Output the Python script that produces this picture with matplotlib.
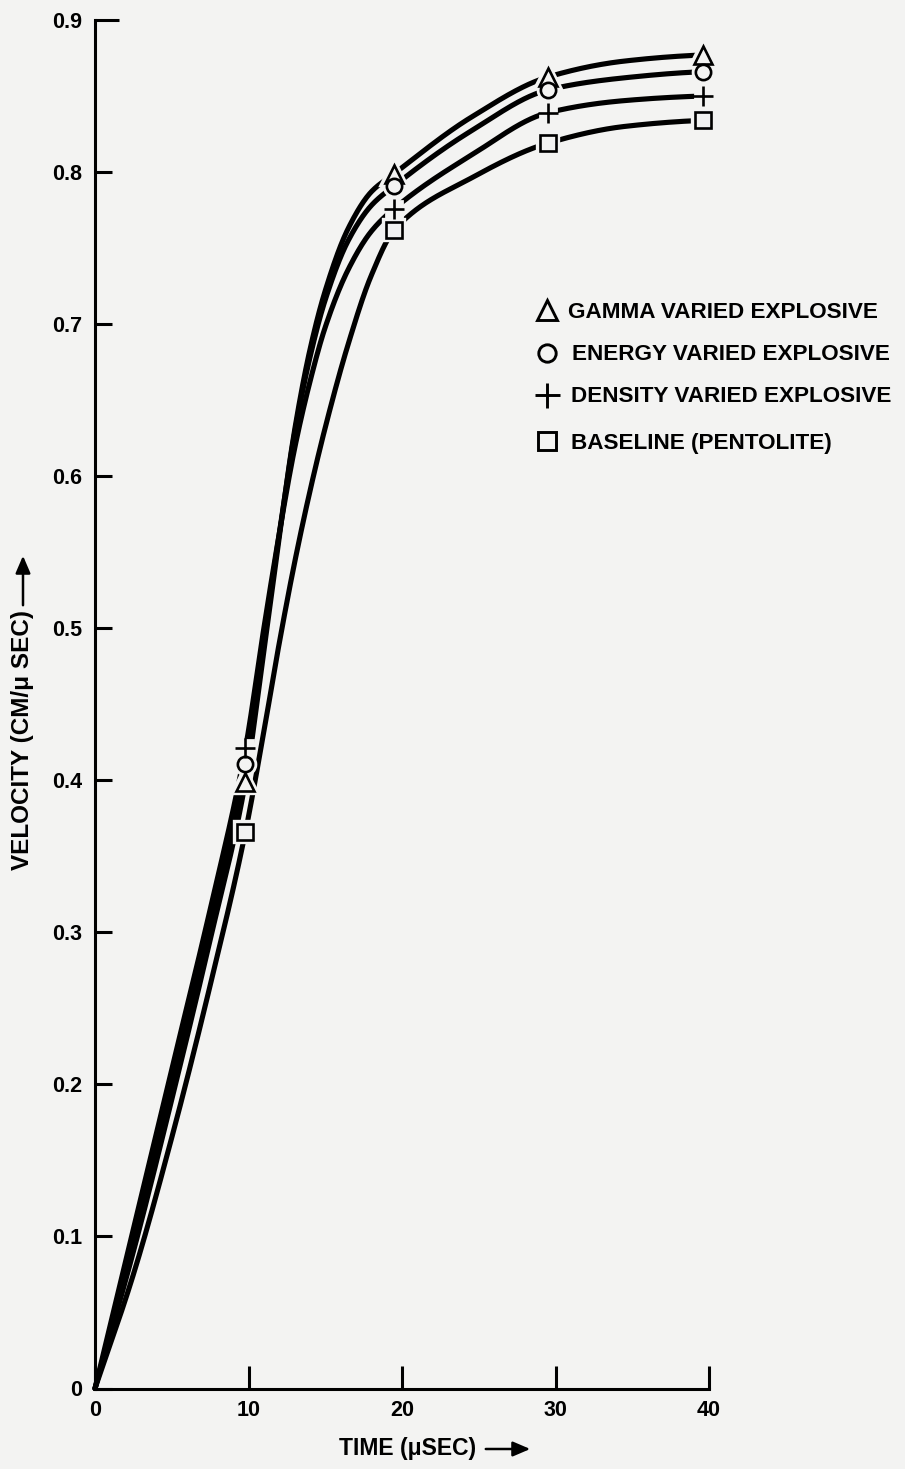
import numpy as np
import matplotlib
matplotlib.use("Agg")
import matplotlib.pyplot as plt

# ---- data -------------------------------------------------------------
series_labels = ["GAMMA VARIED EXPLOSIVE", "ENERGY VARIED EXPLOSIVE",
                 "DENSITY VARIED EXPLOSIVE", "BASELINE (PENTOLITE)"]
series_markers = ["^", "o", "+", "s"]

# computed points (time in microseconds, velocity in cm/us)
point_time = [9.8, 19.5, 29.5, 39.6]
gamma_pts = [0.399, 0.799, 0.8625, 0.877]
energy_pts = [0.411, 0.791, 0.854, 0.866]
density_pts = [0.421, 0.776, 0.839, 0.850]
baseline_pts = [0.366, 0.762, 0.819, 0.834]

# fitted curve knots
curve_time = [0, 2.5, 5, 7.5, 9.8, 11, 12, 13, 14, 15, 16.5, 18, 19.5, 24.5, 29.5, 34.5, 39.6]
gamma_curve = [0, 0.090, 0.190, 0.295, 0.399, 0.485, 0.560, 0.630, 0.683, 0.722, 0.763, 0.787, 0.799,
               0.836, 0.8625, 0.873, 0.877]
energy_curve = [0, 0.095, 0.200, 0.305, 0.411, 0.493, 0.562, 0.628, 0.678, 0.716, 0.755, 0.778, 0.791,
                0.827, 0.854, 0.862, 0.866]
density_curve = [0, 0.105, 0.210, 0.315, 0.421, 0.500, 0.562, 0.618, 0.662, 0.698, 0.736, 0.761, 0.776,
                 0.811, 0.839, 0.847, 0.850]
baseline_curve = [0, 0.075, 0.165, 0.265, 0.366, 0.432, 0.490, 0.543, 0.590, 0.632, 0.687, 0.732, 0.762,
                  0.796, 0.819, 0.830, 0.834]

x_ticks = [0, 10, 20, 30, 40]
y_ticks = [0, 0.1, 0.2, 0.3, 0.4, 0.5, 0.6, 0.7, 0.8, 0.9]
y_ticklabels = ["0", "0.1", "0.2", "0.3", "0.4", "0.5", "0.6", "0.7", "0.8", "0.9"]

all_pts = [gamma_pts, energy_pts, density_pts, baseline_pts]
all_curves = [gamma_curve, energy_curve, density_curve, baseline_curve]


def pchip(x, y, xs):
    """Monotone piecewise cubic Hermite curve through the knots."""
    x = np.asarray(x, float)
    y = np.asarray(y, float)
    h = np.diff(x)
    d = np.diff(y) / h
    m = np.zeros_like(y)
    for k in range(1, len(x) - 1):
        if d[k - 1] * d[k] > 0:
            w1 = 2 * h[k] + h[k - 1]
            w2 = h[k] + 2 * h[k - 1]
            m[k] = (w1 + w2) / (w1 / d[k - 1] + w2 / d[k])
    m[0] = d[0]
    m[-1] = d[-1] * 0.5
    idx = np.clip(np.searchsorted(x, xs) - 1, 0, len(x) - 2)
    t = (xs - x[idx]) / h[idx]
    h00 = 2 * t**3 - 3 * t**2 + 1
    h10 = t**3 - 2 * t**2 + t
    h01 = -2 * t**3 + 3 * t**2
    h11 = t**3 - t**2
    return h00 * y[idx] + h10 * h[idx] * m[idx] + h01 * y[idx + 1] + h11 * h[idx] * m[idx + 1]


# ---- figure -----------------------------------------------------------
W, H = 905, 1469
BG = "#f3f3f2"
plt.rcParams["font.family"] = ["Liberation Sans", "DejaVu Sans"]
plt.rcParams["font.weight"] = "bold"

fig = plt.figure(figsize=(W / 100, H / 100), dpi=100, facecolor=BG)


def fx(px):
    return px / W


def fy(py):
    return 1 - py / H


ax = fig.add_axes([fx(95), fy(1388.5), fx(709) - fx(95), fy(20) - fy(1388.5)])
ax.set_facecolor(BG)
ax.set_xlim(0, 40)
ax.set_ylim(0, 0.9)

ts = np.linspace(0, point_time[-1], 800)
for curve in all_curves:
    ax.plot(ts, pchip(curve_time, curve, ts), color="black", lw=3.7,
            solid_capstyle="round", zorder=2, clip_on=False)

marker_sizes = {"^": 13, "o": 11, "+": 15, "s": 11.5}
for pts, mk in zip(all_pts, series_markers):
    ms = marker_sizes[mk]
    # background-coloured halo that opens a small gap in the curves around each point
    if mk == "+":
        ax.plot(point_time, pts, ls="none", marker="s", ms=ms * 0.75, mfc=BG, mec=BG,
                mew=2, zorder=3, clip_on=False)
    else:
        ax.plot(point_time, pts, ls="none", marker=mk, ms=ms, mfc=BG, mec=BG,
                mew=6, zorder=3, clip_on=False)
    ax.plot(point_time, pts, ls="none", marker=mk, ms=ms, mfc=BG, mec="black",
            mew=1.9, zorder=4, clip_on=False)

# axes frame
for side in ["top", "right"]:
    ax.spines[side].set_visible(False)
for side in ["left", "bottom"]:
    ax.spines[side].set_linewidth(2.2)
    ax.spines[side].set_capstyle("projecting")

ax.set_xticks(x_ticks)
ax.set_xticklabels([str(v) for v in x_ticks])
ax.set_yticks(y_ticks)
ax.set_yticklabels(y_ticklabels)
ax.tick_params(axis="y", direction="in", length=12, width=2.2, pad=9,
               labelsize=15.5)
ax.tick_params(axis="x", direction="in", length=16.5, width=2.2, pad=8,
               labelsize=15.5)
for lab in ax.get_xticklabels() + ax.get_yticklabels():
    lab.set_fontweight("bold")
ax.yaxis.get_major_ticks()[-1].tick1line.set_markersize(17)

# axis titles with arrows
fig.text(fx(23), fy(740), "VELOCITY (CM/\u03bc SEC)", rotation=90, ha="center",
         va="center", fontsize=17.5, fontweight="bold")
fig.add_artist(matplotlib.patches.FancyArrowPatch(
    (fx(23), fy(608)), (fx(23), fy(553)), transform=fig.transFigure,
    arrowstyle="-|>,head_length=7,head_width=3", color="black", lw=1.8,
    mutation_scale=1.5))
fig.text(fx(408), fy(1449), "TIME (\u03bcSEC)", ha="center", va="center",
         fontsize=16.5, fontweight="bold")
fig.add_artist(matplotlib.patches.FancyArrowPatch(
    (fx(483), fy(1449)), (fx(533), fy(1449)), transform=fig.transFigure,
    arrowstyle="-|>,head_length=7,head_width=3", color="black", lw=1.8,
    mutation_scale=1.5))

# legend
leg_rows_y = [310, 352.5, 394.5, 441]
leg_text_x = [568, 572, 571, 571]
leg_ms = {"^": 15, "o": 12.5, "+": 18, "s": 13}
for lab, mk, ry, tx in zip(series_labels, series_markers, leg_rows_y, leg_text_x):
    fig.add_artist(matplotlib.lines.Line2D(
        [fx(547)], [fy(ry)], transform=fig.transFigure, ls="none", marker=mk,
        ms=leg_ms[mk], mfc=BG, mec="black", mew=2.1))
    fig.text(fx(tx), fy(ry), lab, ha="left", va="center_baseline", fontsize=16.2,
             fontweight="bold")

fig.savefig("out.png", dpi=100, facecolor=BG)
